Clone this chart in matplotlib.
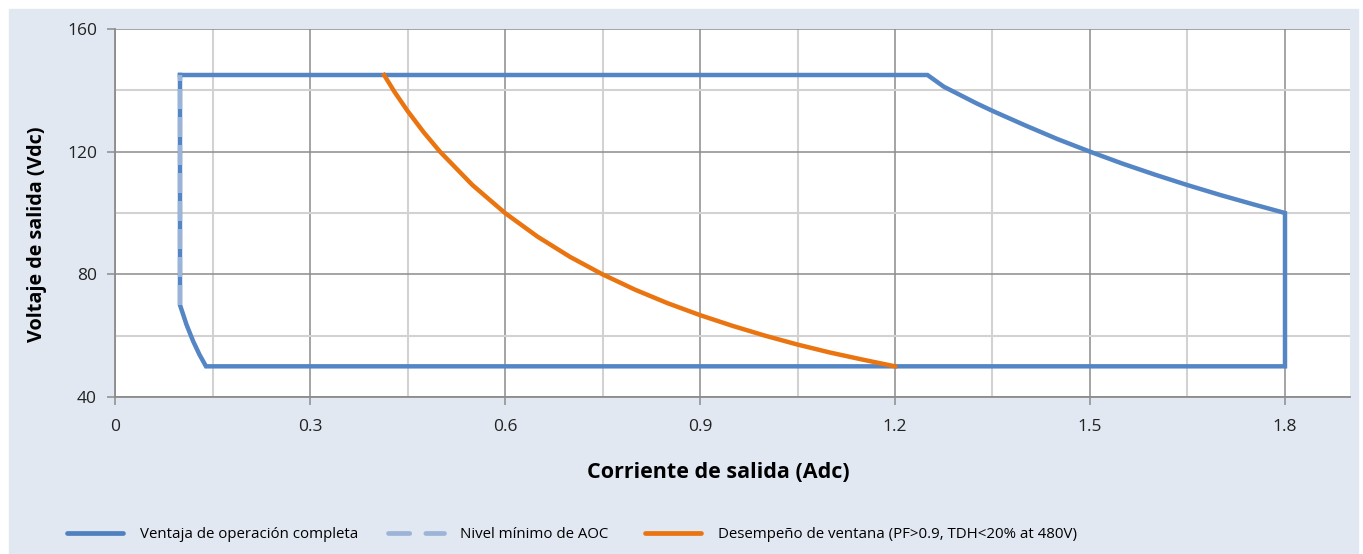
import numpy as np
import matplotlib.pyplot as plt
from matplotlib.lines import Line2D
from matplotlib.patches import Rectangle

plt.rcParams['font.family'] = ['Open Sans', 'DejaVu Sans']

# Full operating envelope (current in A, voltage in V)
env_i = [0.10, 1.25, 1.275, 1.30, 1.325, 1.35, 1.40, 1.45, 1.50, 1.55, 1.60, 1.65, 1.70, 1.75, 1.80,
         1.80, 0.14, 0.13, 0.12, 0.11, 0.10, 0.10]
env_v = [145, 145, 141.2, 138.5, 135.8, 133.3, 128.6, 124.1, 120, 116.1, 112.5, 109.1, 105.9, 102.9, 100,
         50, 50, 53.8, 58.3, 63.6, 70, 145]

# Minimum AOC level
aoc_i = [0.10, 0.10]
aoc_v = [70, 145]

# Window performance curve
win_i = [0.414, 0.43, 0.45, 0.475, 0.50, 0.55, 0.60, 0.65, 0.70, 0.75, 0.80, 0.85, 0.90, 0.95,
         1.00, 1.05, 1.10, 1.15, 1.20]
win_v = [145, 139.5, 133.3, 126.3, 120, 109.1, 100, 92.3, 85.7, 80, 75, 70.6, 66.7, 63.2,
         60, 57.1, 54.5, 52.2, 50]

labels = ['Ventaja de operación completa', 'Nivel mínimo de AOC',
          'Desempeño de ventana (PF>0.9, TDH<20% at 480V)']

blue = '#5485C4'
light_blue = '#9DB4D9'
orange = '#EA7410'
bg = '#E1E8F2'
W, H = 1363, 554

fig = plt.figure(figsize=(W / 100, H / 100), dpi=100, facecolor='white')
fig.patches.append(Rectangle((9 / W, 0), 1349 / W, 545 / H,
                             transform=fig.transFigure, color=bg, zorder=-5))

ax = fig.add_axes([115 / W, 157 / H, 1235 / W, 368 / H])
ax.set_facecolor('white')

ax.plot(env_i, env_v, color=blue, lw=3.2, solid_joinstyle='miter', zorder=3)
ax.plot(aoc_i, aoc_v, color=light_blue, lw=3.2, dashes=(4.5, 1.8), zorder=4)
ax.plot(win_i, win_v, color=orange, lw=3.2, zorder=3)

ax.set_xlim(0, 1.9)
ax.set_ylim(40, 160)
ax.set_xticks(np.arange(0, 1.81, 0.3))
ax.set_xticklabels(['0', '0.3', '0.6', '0.9', '1.2', '1.5', '1.8'])
ax.set_xticks(np.arange(0.15, 1.9, 0.3), minor=True)
ax.set_yticks([40, 80, 120, 160])
ax.set_yticks([60, 100, 140], minor=True)

ax.grid(which='major', color='#8C8C8C', lw=1.1)
ax.grid(which='minor', color='#D2D2D2', lw=1.5)
ax.set_axisbelow(True)

for s in ['top', 'right']:
    ax.spines[s].set_visible(False)
for s in ['left', 'bottom']:
    ax.spines[s].set_color('#8C8C8C')
    ax.spines[s].set_linewidth(1.3)

ax.tick_params(which='major', length=6, width=1.1, color='#8C8C8C',
               labelsize=12.5, labelcolor='#222222')
ax.tick_params(which='minor', length=0)
ax.tick_params(axis='x', pad=10)
ax.tick_params(axis='y', pad=7)

fig.text(718 / W, (H - 473) / H, 'Corriente de salida (Adc)', fontsize=15.5,
         fontweight='bold', ha='center', va='center')
fig.text(37 / W, (H - 234) / H, 'Voltaje de salida (Vdc)', fontsize=14.2,
         fontweight='bold', ha='center', va='center', rotation=90)

# legend entries laid out one by one
handles = [Line2D([], [], color='#4F80C0', lw=3.4, solid_capstyle='round'),
           Line2D([], [], color=light_blue, lw=3.4, dashes=(4.5, 3.4), dash_capstyle='round'),
           Line2D([], [], color=orange, lw=3.4, solid_capstyle='round')]
starts = [67, 388, 645]
for h, lab, x0 in zip(handles, labels, starts):
    fig.legend([h], [lab], loc='center left', bbox_to_anchor=(x0 / W, (H - 535) / H),
               frameon=False, fontsize=10.8, handlelength=56 / 15, handletextpad=1.1,
               borderpad=0, borderaxespad=0)

fig.savefig('out.png', dpi=100, facecolor=fig.get_facecolor())
